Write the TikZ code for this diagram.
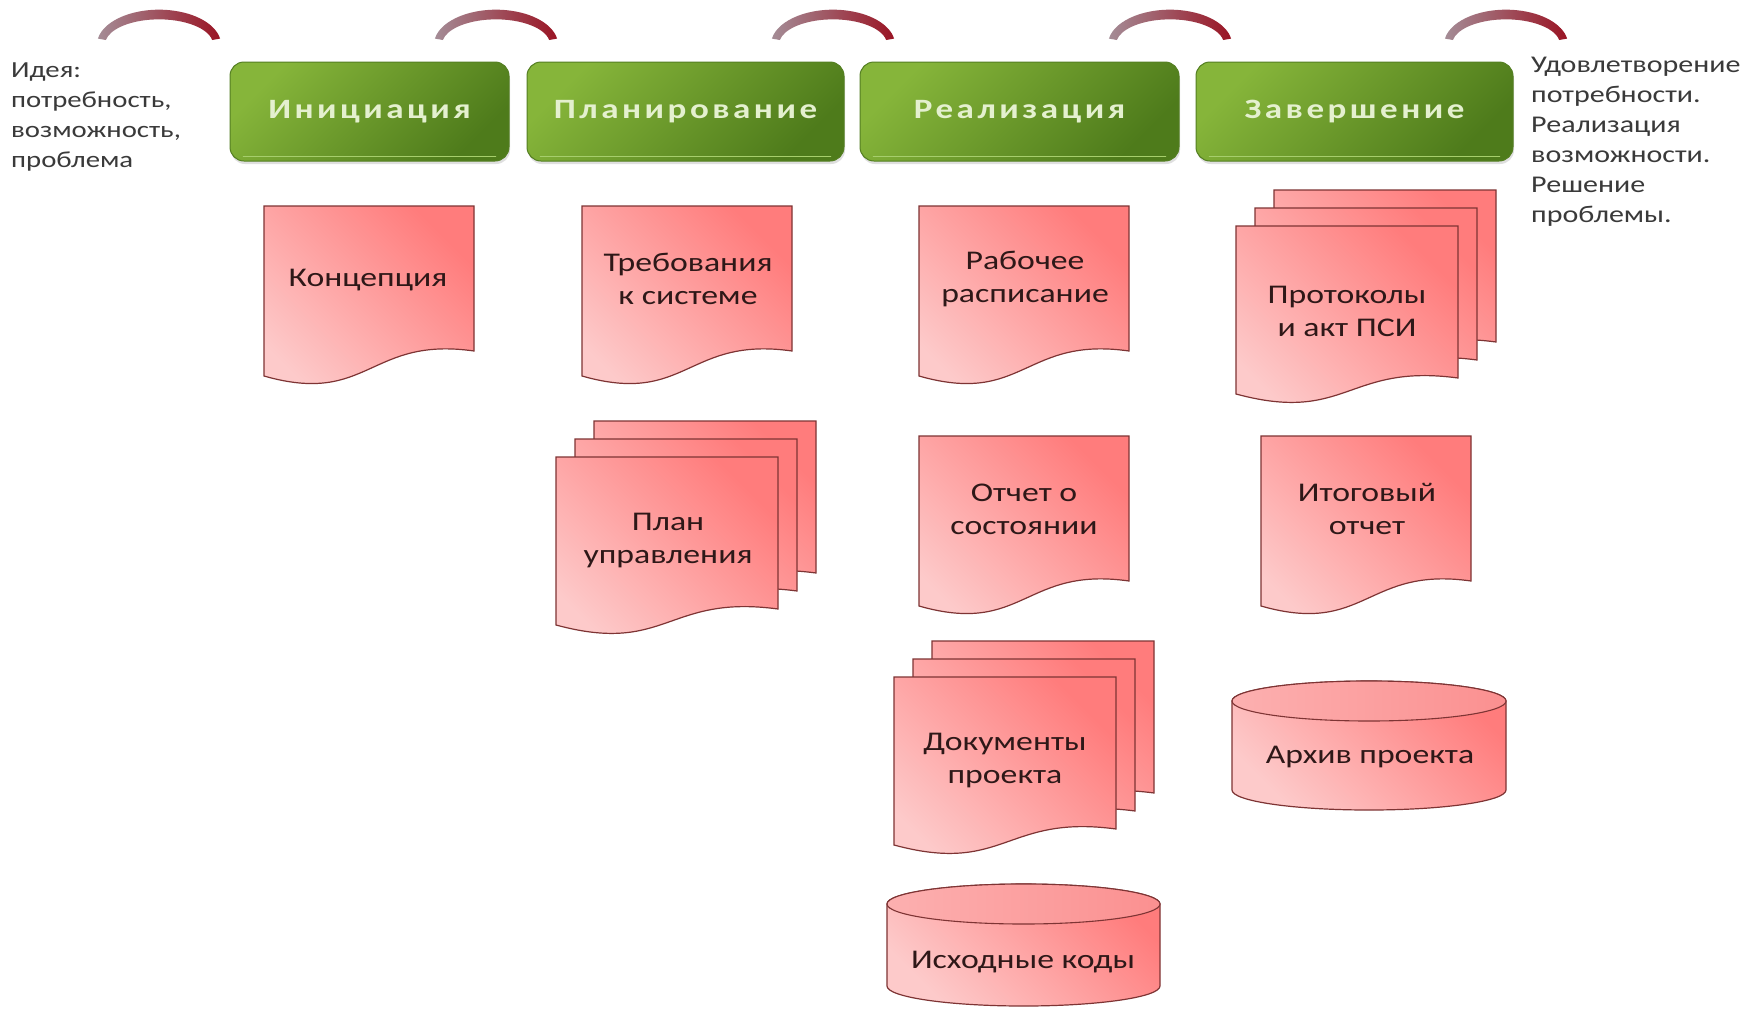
\documentclass[tikz,border=0pt]{standalone}
\usepackage{fontspec}
\setmainfont{Carlito}
\newfontfamily\docfont[FakeStretch=1.25]{Carlito}
\newfontfamily\headfont[FakeStretch=1.25,LetterSpace=12.5]{Carlito}
\usetikzlibrary{shadows}
\definecolor{pinkA}{HTML}{FF7C7C}
\definecolor{pinkB}{HTML}{FDCACA}
\definecolor{pinkC}{HTML}{FCB0B0}
\definecolor{pinkD}{HTML}{FB9090}
\definecolor{pinkline}{HTML}{7E3434}
\definecolor{greenA}{HTML}{86B53A}
\definecolor{greenB}{HTML}{4E7B1B}
\definecolor{greenline}{HTML}{547F22}
\definecolor{greenhl}{HTML}{A6CE6C}
\definecolor{headtext}{HTML}{E4F0CF}
\definecolor{doctextcol}{HTML}{2E1818}
\definecolor{sidetextcol}{HTML}{3A3A3A}
\definecolor{arcA}{HTML}{A48C96}
\definecolor{arcB}{HTML}{C04656}
\definecolor{arcC}{HTML}{9A1424}
\tikzset{
  docfill/.style={top color=pinkA, bottom color=pinkB, shading angle=-45, draw=pinkline, line width=1.2pt},
  topfill/.style={left color=pinkC, right color=pinkD, draw=pinkline, line width=1.1pt},
  hbox/.style={rounded corners=14pt, minimum height=99pt, top color=greenA, bottom color=greenB,
    shading angle=45, draw=greenline, line width=1pt, text=headtext,
    font=\headfont\bfseries\fontsize{28}{34}\selectfont,
    drop shadow={opacity=0.25, shadow xshift=1pt, shadow yshift=-3pt}},
  hlight/.style={draw=greenhl, line width=1.6pt, line cap=round},
  doctext/.style={align=center, text=doctextcol, font=\docfont\fontsize{27}{33}\selectfont},
  sidetext/.style={align=left, text=sidetextcol, inner sep=0pt, font=\docfont\fontsize{23}{30}\selectfont},
  arcshade/.style={left color=arcA, middle color=arcB, right color=arcC}
}
\newcommand\docshape[5]{%
  \path[docfill,shift={(#1,#2)}] (0,0) -- (#3,0) -- (#3,#4)
    .. controls (0.5*#3,#4-15) and (0.5*#3,#5+30) .. (0,#5) -- cycle;}
\newcommand\singledoc[2]{\docshape{#1}{#2}{210}{145}{170}}
\newcommand\multidoc[2]{%
  \docshape{#1+38}{#2-36}{222}{152}{168}%
  \docshape{#1+19}{#2-18}{222}{152}{168}%
  \docshape{#1}{#2}{222}{152}{168}}
\newcommand\cyl[4]{%
  \path[docfill] (#1,#2+20) -- (#1,#4-20)
    arc[start angle=180,end angle=0,x radius=#3/2,y radius=20]
    -- (#1+#3,#2+20)
    arc[start angle=0,end angle=-180,x radius=#3/2,y radius=20] -- cycle;
  \path[topfill] (#1+#3/2,#2+20) ellipse[x radius=#3/2,y radius=20];}
\newcommand\toparc[1]{%
  \shade[arcshade] (#1-61.06,38.6)
    arc[start angle=190,end angle=350,x radius=62,y radius=35]
    -- (#1+53.2,40)
    arc[start angle=350,end angle=190,x radius=54,y radius=25] -- cycle;}
\begin{document}
\begin{tikzpicture}[x=1pt,y=-1pt]
\fill[white] (0,0) rectangle (1761,1010);
\useasboundingbox (0,0) rectangle (1761,1010);

% arcs
\toparc{159}
\toparc{496}
\toparc{833}
\toparc{1170}
\toparc{1506}

% headers
\node[hbox, minimum width=279pt] (h1) at (369.5,111.5) {\raisebox{-2pt}{Инициация}};
\node[hbox, minimum width=317pt] (h2) at (685.5,111.5) {\raisebox{-2pt}{Планирование}};
\node[hbox, minimum width=319pt] (h3) at (1019.5,111.5) {\raisebox{-2pt}{Реализация}};
\node[hbox, minimum width=317pt] (h4) at (1354.5,111.5) {\raisebox{-2pt}{Завершение}};
\foreach \h in {h1,h2,h3,h4}{
  \draw[hlight] ([xshift=14pt,yshift=5pt]\h.south west) -- ([xshift=-14pt,yshift=5pt]\h.south east);
}

% side texts
\node[sidetext, anchor=north west] (idea) at (11,63) {Идея:\\потребность,\\возможность,\\проблема};
\node[sidetext, anchor=north west, font=\docfont\fontsize{24}{30}\selectfont] (result) at (1531,57) {Удовлетворение\\потребности.\\Реализация\\возможности.\\Решение\\проблемы.};

% documents
\singledoc{264}{206}
\singledoc{582}{206}
\singledoc{919}{206}
\multidoc{1236}{226}
\multidoc{556}{457}
\singledoc{919}{436}
\singledoc{1261}{436}
\multidoc{894}{677}
\cyl{1232}{681}{274}{810}
\cyl{887}{884}{273}{1006}

\node[doctext] (tConc) at (368,280) {Концепция};
\node[doctext] (tTreb) at (688,279) {Требования\\к системе};
\node[doctext] (tRab) at (1025,279) {Рабочее\\расписание};
\node[doctext] (tProt) at (1347,311) {Протоколы\\и акт ПСИ};
\node[doctext] (tPlan) at (668,541) {План\\управления};
\node[doctext] (tOtch) at (1024,509) {Отчет о\\состоянии};
\node[doctext] (tItog) at (1367,509) {Итоговый\\отчет};
\node[doctext] (tDocs) at (1005,761) {Документы\\проекта};
\node[doctext] (tArch) at (1370,757) {Архив проекта};
\node[doctext] (tSrc) at (1023,962) {Исходные коды};
\end{tikzpicture}
\end{document}
